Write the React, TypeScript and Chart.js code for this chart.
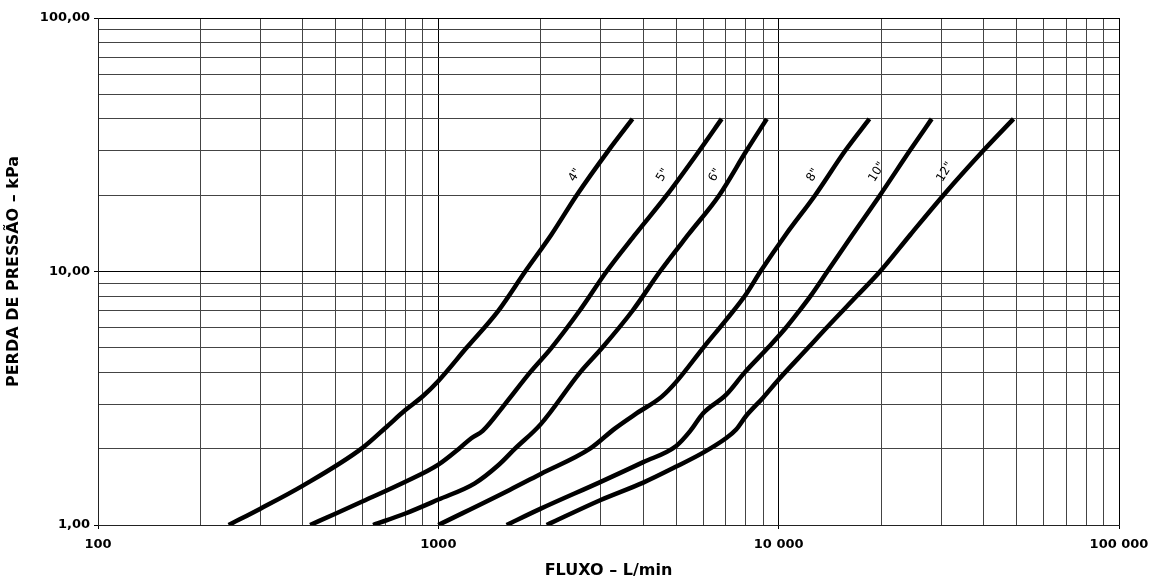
import React, { useEffect, useRef } from "react";
import { Chart, registerables } from "chart.js";

Chart.register(...registerables);

// Pipe sizes
const pipeSizes = ['4"', '5"', '6"', '8"', '10"', '12"'];

// Flow (L/min) and pressure loss (kPa) per pipe size
const flow4 = [242, 300, 400, 600, 700, 800, 900, 1000, 1210, 1500, 1800, 2150, 2550, 3160, 3720];
const loss4 = [1, 1.16, 1.43, 2.02, 2.42, 2.84, 3.22, 3.7, 5, 7, 10, 14, 20, 30, 40];

const flow5 = [420, 500, 600, 800, 1000, 1150, 1250, 1350, 1570, 1860, 2150, 2600, 3120, 3790, 4690, 5850, 6800];
const loss5 = [1, 1.11, 1.24, 1.48, 1.73, 2, 2.2, 2.35, 3, 4, 5, 7, 10, 14, 20, 30, 40];

const flow6 = [643, 800, 1000, 1280, 1500, 1680, 2000, 2610, 3030, 3720, 4480, 5430, 6690, 8050, 9230];
const loss6 = [1, 1.11, 1.26, 1.46, 1.72, 2, 2.5, 4, 5, 7, 10, 14, 20, 30, 40];

const flow8 = [1000, 1620, 2000, 2790, 3300, 3830, 4535, 5000, 6000, 7000, 8000, 8840, 10500, 12800, 15700, 18480];
const loss8 = [1, 1.375, 1.59, 2, 2.4, 2.76, 3.21, 3.67, 5, 6.43, 8.1, 10, 14, 20, 30, 40];

const flow10 = [1587, 2000, 3000, 4000, 5000, 5500, 6000, 7000, 7950, 9300, 10500, 11500, 12400, 13900, 16500, 19850, 24300, 28160];
const loss10 = [1, 1.16, 1.48, 1.77, 2.05, 2.35, 2.76, 3.26, 4, 5, 6, 7, 8, 10, 14, 20, 30, 40];

const flow12 = [2081, 3000, 4000, 5000, 6000, 7000, 7500, 8000, 9000, 10000, 12200, 13830, 16960, 19850, 24400, 30480, 39950, 48980];
const loss12 = [1, 1.255, 1.47, 1.7, 1.93, 2.2, 2.38, 2.68, 3.18, 3.75, 5, 6, 8, 10, 14, 20, 30, 40];

const flows = [flow4, flow5, flow6, flow8, flow10, flow12];
const losses = [loss4, loss5, loss6, loss8, loss10, loss12];

// Where each size label sits (data coordinates)
const labelFlow = [2522, 4571, 6504, 12620, 19450, 30830];
const labelLoss = [24.0, 24.0, 24.0, 24.0, 24.7, 24.7];

// Axis grid / tick values
const xGridValues = [
  100, 200, 300, 400, 500, 600, 700, 800, 900,
  1000, 2000, 3000, 4000, 5000, 6000, 7000, 8000, 9000,
  10000, 20000, 30000, 40000, 50000, 60000, 70000, 80000, 90000,
  100000,
];
const yGridValues = [1, 2, 3, 4, 5, 6, 7, 8, 9, 10, 20, 30, 40, 50, 60, 70, 80, 90, 100];
const xMajorValues = [100, 1000, 10000, 100000];
const xTickLabels = ["100", "1000", "10 000", "100 000"];
const yMajorValues = [1, 10, 100];
const yTickLabels = ["1,00", "10,00", "100,00"];

const xTitle = "FLUXO – L/min";
const yTitle = "PERDA DE PRESSÃO – kPa";

const FONT = '"DejaVu Sans", "Liberation Sans", sans-serif';

const isMajor = (v: number) => Math.abs(Math.log10(v) - Math.round(Math.log10(v))) < 1e-9;

const sizeLabelPlugin = {
  id: "sizeLabels",
  afterDatasetsDraw(chart: any) {
    const { ctx, scales } = chart;
    ctx.save();
    ctx.font = `12px ${FONT}`;
    ctx.fillStyle = "#000";
    ctx.textAlign = "center";
    ctx.textBaseline = "middle";
    pipeSizes.forEach((s, i) => {
      const px = scales.x.getPixelForValue(labelFlow[i]);
      const py = scales.y.getPixelForValue(labelLoss[i]);
      ctx.save();
      ctx.translate(px, py);
      ctx.rotate((-58 * Math.PI) / 180);
      ctx.fillText(s, 0, 0);
      ctx.restore();
    });
    ctx.restore();
  },
};

export default function App() {
  const canvasRef = useRef<HTMLCanvasElement | null>(null);

  useEffect(() => {
    if (!canvasRef.current) return;
    const chart = new Chart(canvasRef.current, {
      type: "line",
      data: {
        datasets: pipeSizes.map((s, i) => ({
          label: s,
          data: flows[i].map((f, j) => ({ x: f, y: losses[i][j] })),
          borderColor: "#000",
          borderWidth: 4.5,
          pointRadius: 0,
          fill: false,
          cubicInterpolationMode: "monotone" as const,
          borderCapStyle: "butt" as const,
          borderJoinStyle: "round" as const,
        })),
      },
      options: {
        animation: false,
        responsive: true,
        maintainAspectRatio: false,
        layout: { padding: { top: 18, right: 38, left: 0, bottom: 0 } },
        plugins: {
          legend: { display: false },
          tooltip: { enabled: false },
        },
        scales: {
          x: {
            type: "logarithmic",
            min: 100,
            max: 100000,
            afterBuildTicks: (scale: any) => {
              scale.ticks = xGridValues.map((v) => ({ value: v }));
            },
            afterFit: (scale: any) => {
              scale.height = 55;
            },
            grid: {
              color: (ctx: any) => (ctx.tick && isMajor(ctx.tick.value) ? "#000" : "#444"),
              lineWidth: 1,
              tickLength: 4,
              tickColor: (ctx: any) => (ctx.tick && isMajor(ctx.tick.value) ? "#000" : "rgba(0,0,0,0)"),
            },
            border: { color: "#222", width: 1 },
            ticks: {
              autoSkip: false,
              maxRotation: 0,
              padding: 8,
              color: "#000",
              font: { family: FONT, size: 13, weight: "bold" },
              callback: (val: any) => {
                const k = xMajorValues.indexOf(Number(val));
                return k >= 0 ? xTickLabels[k] : "";
              },
            },
            title: {
              display: true,
              text: xTitle,
              color: "#000",
              font: { family: FONT, size: 16, weight: "bold", lineHeight: 1.2 },
              padding: { top: 0, bottom: 0 },
            },
          },
          y: {
            type: "logarithmic",
            min: 1,
            max: 100,
            afterBuildTicks: (scale: any) => {
              scale.ticks = yGridValues.map((v) => ({ value: v }));
            },
            afterFit: (scale: any) => {
              scale.width = 98;
            },
            grid: {
              color: (ctx: any) => (ctx.tick && isMajor(ctx.tick.value) ? "#000" : "#444"),
              lineWidth: 1,
              tickLength: 4,
              tickColor: (ctx: any) => (ctx.tick && isMajor(ctx.tick.value) ? "#000" : "rgba(0,0,0,0)"),
            },
            border: { color: "#222", width: 1 },
            ticks: {
              autoSkip: false,
              padding: 4,
              color: "#000",
              font: { family: FONT, size: 13, weight: "bold" },
              callback: (val: any) => {
                const k = yMajorValues.indexOf(Number(val));
                return k >= 0 ? yTickLabels[k] : "";
              },
            },
            title: {
              display: true,
              text: yTitle,
              color: "#000",
              font: { family: FONT, size: 16, weight: "bold", lineHeight: 1.2 },
              padding: { top: 4, bottom: 0 },
            },
          },
        },
      },
      plugins: [sizeLabelPlugin],
    });
    return () => chart.destroy();
  }, []);

  return (
    <div style={{ position: "fixed", left: 0, top: 0, width: 1157, height: 580, background: "#fff" }}>
      <canvas ref={canvasRef} />
    </div>
  );
}
